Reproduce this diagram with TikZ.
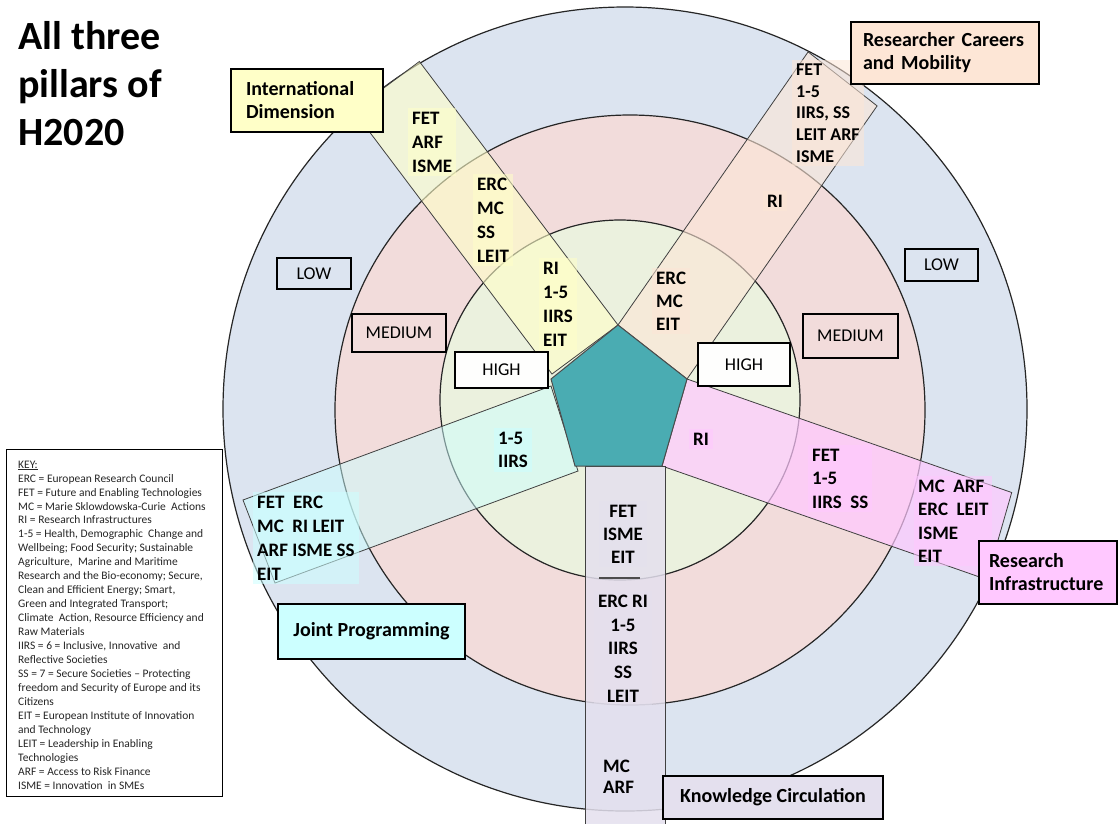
\documentclass[tikz,border=0pt]{standalone}
\usepackage{fontspec}
\setmainfont{Carlito}
\usetikzlibrary{calc}
\definecolor{ringblue}{RGB}{220,228,240}
\definecolor{ringpink}{RGB}{242,220,219}
\definecolor{ringgreen}{RGB}{235,241,222}
\definecolor{pent}{RGB}{74,172,178}
\definecolor{cyellow}{RGB}{255,255,200}
\definecolor{cpeach}{RGB}{253,230,214}
\definecolor{cpink}{RGB}{255,200,255}
\definecolor{ccyan}{RGB}{204,255,255}
\definecolor{clav}{RGB}{228,224,238}
\newcommand\sfnt[2]{\fontsize{#1}{#2}\selectfont\bfseries}
\begin{document}
\begin{tikzpicture}[x=1pt,y=-1pt,
  ring/.style={draw=black!85, line width=1.2pt},
  stripline/.style={draw=black!75, line width=0.8pt},
  lvl/.style={draw=black, line width=1.8pt, font=\fontsize{18}{20}\selectfont, inner sep=0pt},
  legend/.style={draw=black, line width=2pt, font=\fontsize{20}{23}\selectfont\bfseries, anchor=north west, align=left, inner ysep=0pt},
  tb/.style={align=left, anchor=north west, inner sep=4pt, text opacity=1, fill opacity=0.55},
  tbc/.style={align=center, anchor=north, inner sep=4pt, text opacity=1, fill opacity=0.4}]
\useasboundingbox (0,0) rectangle (1118,823);
\fill[white] (0,0) rectangle (1118,823);
% rings
\filldraw[ring, fill=ringblue] (625,409) circle[radius=402pt];
\filldraw[ring, fill=ringpink] (630,410) circle[radius=295pt];
\filldraw[ring, fill=ringgreen] (620,400) circle[radius=180pt];
% strips
\filldraw[stripline, fill=cyellow, fill opacity=0.6] (618,325) -- (552,374) -- (353.4,110.5) -- (419.4,61.5) -- cycle;
\filldraw[stripline, fill=cpeach, fill opacity=0.6] (618,325) -- (687,379) -- (877.1,105.9) -- (808.1,51.9) -- cycle;
\filldraw[stripline, fill=cpink, fill opacity=0.7] (687,379) -- (662,466) -- (986.7,579.5) -- (1011.7,492.5) -- cycle;
\filldraw[stripline, fill=ccyan, fill opacity=0.5] (551,386) -- (578,471) -- (275,583) -- (243,500) -- cycle;
\filldraw[stripline, fill=clav, fill opacity=0.85] (585,466) -- (665,466) -- (665,826) -- (585,826) -- cycle;
% pentagon
\filldraw[fill=pent, draw=black!70, line width=1pt] (618,325) -- (687,379) -- (662,466) -- (575,466) -- (551,379) -- cycle;
% separator in knowledge circulation strip
\coordinate (sepL) at (599,578);
\coordinate (sepR) at (640,578);
\draw[black!70, line width=1.2pt] (sepL) -- (sepR);
% strip texts
\node[tb, fill=cyellow, font=\sfnt{19}{24}] (i1) at (408,107.8) {FET\\ARF\\ISME};
\node[tb, fill=cyellow, font=\sfnt{19}{24}] (i2) at (473,173.8) {ERC\\MC\\SS\\LEIT};
\node[tb, fill=cyellow, font=\sfnt{19}{24}] (i3) at (539,257.8) {RI\\1-5\\IIRS\\EIT};
\node[tb, fill=cpeach, font=\sfnt{18}{21.75}] (r1) at (792,59.4) {FET\\1-5\\IIRS, SS\\LEIT ARF\\ISME};
\node[tb, fill=cpeach, font=\sfnt{19}{24}] (r2) at (763,190.8) {RI};
\node[tb, fill=cpeach, font=\sfnt{19}{23}] (r3) at (652,267.8) {ERC\\MC\\EIT};
\node[tb, fill=ccyan, font=\sfnt{19}{23.5}] (j1) at (494,427.8) {1-5\\IIRS};
\node[tb, fill=ccyan, font=\sfnt{19}{24}] (j2) at (253,491.8) {FET\ \ ERC\\MC\ \ RI LEIT\\ARF ISME SS\\EIT};
\node[tbc, fill=clav, font=\sfnt{19}{23}] (k1) at (623,500.8) {FET\\ISME\\EIT};
\node[tbc, fill=clav, font=\sfnt{19}{23.75}] (k2) at (623,590.8) {ERC RI\\1-5\\IIRS\\SS\\LEIT};
\node[tb, fill=clav, fill opacity=0.4, font=\sfnt{19}{21.5}] (k3) at (599,755.8) {MC\\ARF};
\node[tb, fill=cpink, font=\sfnt{19}{24}] (p1) at (689,428.8) {RI};
\node[tb, fill=cpink, font=\sfnt{19}{23.5}] (p2) at (808,444.8) {FET\\1-5\\IIRS\ \ SS};
\node[tb, fill=cpink, font=\sfnt{19}{23.3}] (p3) at (914,475.8) {MC\ \ ARF\\ERC\ \ LEIT\\ISME\\EIT};
% level boxes
\node[lvl, fill=ringblue, minimum width=74pt, minimum height=31pt] (lowL) at (314,273.5) {LOW};
\node[lvl, fill=ringblue, minimum width=73pt, minimum height=32pt] (lowR) at (941.5,265) {LOW};
\node[lvl, fill=ringpink, minimum width=94pt, minimum height=38pt] (medL) at (399,333) {MEDIUM};
\node[lvl, fill=ringpink, minimum width=95pt, minimum height=44pt] (medR) at (850.5,336) {MEDIUM};
\node[lvl, fill=ringgreen!90!black!3, minimum width=93pt, minimum height=36pt] (highL) at (501.5,370) {HIGH};
\node[lvl, fill=ringgreen!90!black!3, minimum width=92pt, minimum height=43pt] (highR) at (744,364.5) {HIGH};
% legend boxes
\node[legend, fill=cyellow, minimum width=152pt, minimum height=63pt, text width=122pt, inner xsep=15pt] (intl) at (230,68) {International\\Dimension};
\node[legend, fill=cpeach, minimum width=188pt, minimum height=62pt, text width=164pt, inner xsep=12pt] (rcm) at (850,21) {Researcher Careers\\and Mobility};
\node[legend, fill=cpink, minimum width=138pt, minimum height=63pt, text width=118pt, inner xsep=10pt] (rinf) at (978,540) {Research\\Infrastructure};
\node[legend, align=center, fill=ccyan, minimum width=187pt, minimum height=55pt] (jp) at (277,603) {Joint Programming};
\node[legend, align=center, fill=clav, minimum width=220pt, minimum height=43pt] (kc) at (662,775) {Knowledge Circulation};
% title
\node[anchor=north west, inner sep=0pt, align=left, font=\fontsize{40}{48}\selectfont\bfseries] (title) at (18,21) {All three\\pillars of\\H2020};
% key
\node[draw=black, line width=0.8pt, anchor=north west, minimum width=216pt, minimum height=347pt, inner sep=0pt] (keybox) at (6,449) {};
\node[anchor=north west, inner sep=0pt, align=left, text=black!85, font=\fontsize{11.5}{13.95}\selectfont] (keytext) at (18,460.6) {\underline{KEY:}\\
ERC = European Research Council\\
FET = Future and Enabling Technologies\\
MC = Marie Sklowdowska-Curie\ \ Actions\\
RI = Research Infrastructures\\
1-5 = Health, Demographic\ \ Change and\\
Wellbeing; Food Security; Sustainable\\
Agriculture,\ \ Marine and Maritime\\
Research and the Bio-economy; Secure,\\
Clean and Efficient Energy; Smart,\\
Green and Integrated Transport;\\
Climate\ \ Action, Resource Efficiency and\\
Raw Materials\\
IIRS = 6 = Inclusive, Innovative\ \ and\\
Reflective Societies\\
SS = 7 = Secure Societies – Protecting\\
freedom and Security of Europe and its\\
Citizens\\
EIT = European Institute of Innovation\\
and Technology\\
LEIT = Leadership in Enabling\\
Technologies\\
ARF = Access to Risk Finance\\
ISME = Innovation\ \ in SMEs};
\end{tikzpicture}
\end{document}
